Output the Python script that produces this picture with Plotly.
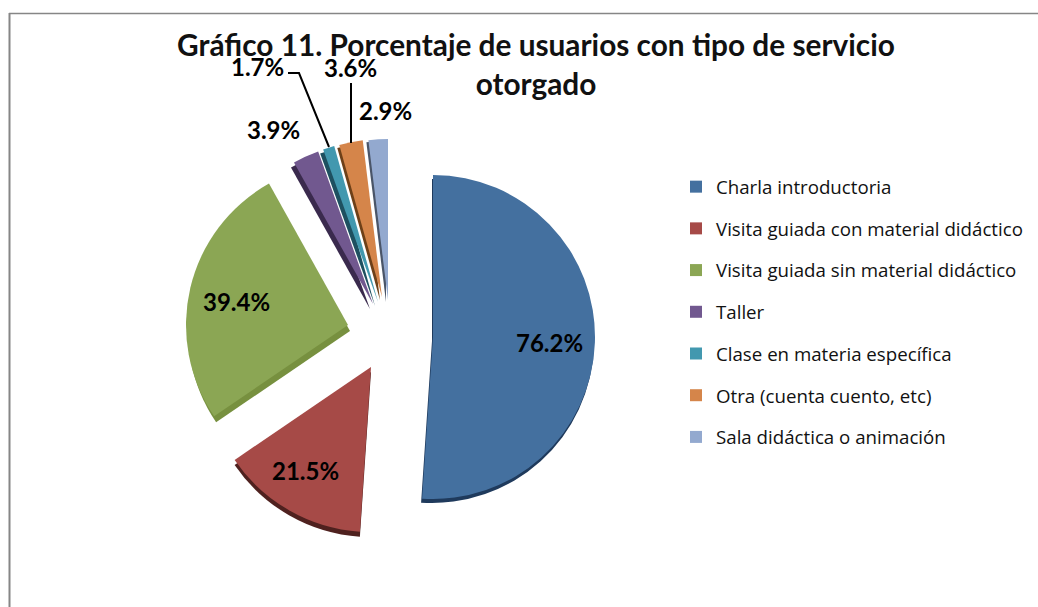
import plotly.graph_objects as go

W, H = 1038, 607

categories = ["Charla introductoria", "Visita guiada con material didáctico",
              "Visita guiada sin material didáctico", "Taller",
              "Clase en materia específica", "Otra (cuenta cuento, etc)",
              "Sala didáctica o animación"]
values = [76.2, 21.5, 39.4, 3.9, 1.7, 3.6, 2.9]
colors = ["#44709F", "#A64A47", "#8BA654", "#71588F", "#4298AF", "#D5854A", "#93A9CF"]
side_colors = ["#1F3A5C", "#4F211F", "#77903F", "#3A2A4D", "#1E5060", "#6E4018", "#4A5568"]

# apex (px) and radius (px) of each exploded wedge in the picture
apex_x = [433, 371, 348, 373, 378, 382, 388]
apex_y = [337, 367, 325, 304, 302, 297, 300]
radius = [162, 165, 162, 162, 162, 158, 161]
side_dx = [-1, 0, 2, -3, -3, -2, -2]
side_dy = [4, 5, 6, 5, 4, 3, 2]

label_x = [549, 305, 236, 273, 257, 350, 385]
label_y = [342, 471, 301, 129, 66, 68, 111]

CLEAR = "rgba(0,0,0,0)"


def dom(cx, cy, r):
    return dict(x=[(cx - r) / W, (cx + r) / W], y=[1 - (cy + r) / H, 1 - (cy - r) / H])


def wedge(i, palette, dx=0, dy=0):
    cols = [palette[j] if j == i else CLEAR for j in range(len(values))]
    return go.Pie(labels=categories, values=values, sort=False, direction="clockwise",
                  rotation=0, textinfo="none", hoverinfo="skip", showlegend=False,
                  marker=dict(colors=cols, line=dict(width=0)),
                  domain=dom(apex_x[i] + dx, apex_y[i] + dy, radius[i]))


fig = go.Figure()
for i in range(len(values)):
    fig.add_trace(wedge(i, side_colors, side_dx[i], side_dy[i]))
for i in range(len(values)):
    fig.add_trace(wedge(i, colors))

# legend entries
for i, c in enumerate(categories):
    fig.add_trace(go.Pie(labels=[c], values=[values[i]], textinfo="none", hoverinfo="skip",
                         legendgroup=c, marker=dict(colors=[colors[i]], line=dict(width=0)),
                         domain=dict(x=[0.5, 0.5002], y=[0.5, 0.5002])))

annotations = [dict(x=label_x[i] / W, y=1 - label_y[i] / H, xref="paper", yref="paper",
                    xanchor="center", yanchor="middle",
                    text=f"<b>{values[i]}%</b>", showarrow=False,
                    font=dict(family="Lato", size=24, color="black"))
               for i in range(len(values))]

line_style = dict(color="black", width=2)
shapes = [
    dict(type="line", xref="paper", yref="paper", x0=9.5 / W, x1=9.5 / W, y0=0, y1=1 - 13 / H,
         line=dict(color="#868686", width=2)),
    dict(type="line", xref="paper", yref="paper", x0=9 / W, x1=1, y0=1 - 13.5 / H, y1=1 - 13.5 / H,
         line=dict(color="#868686", width=1.5)),
    dict(type="path", xref="paper", yref="paper",
         path=f"M {288 / W} {1 - 73 / H} L {299 / W} {1 - 73 / H} L {329 / W} {1 - 147 / H}",
         line=line_style),
    dict(type="line", xref="paper", yref="paper", x0=351 / W, x1=351 / W, y0=1 - 83 / H, y1=1 - 143 / H,
         line=line_style),
]

fig.update_layout(
    width=W, height=H, margin=dict(l=0, r=0, t=0, b=0), paper_bgcolor="white",
    font=dict(family="Lato", color="#111111"),
    title=dict(text="<b>Gráfico 11. Porcentaje de usuarios con tipo de servicio<br>otorgado</b>",
               x=536 / W, xanchor="center", y=1 - 56 / H, yanchor="middle",
               font=dict(family="Lato", size=29.8, color="#111111")),
    legend=dict(x=676 / W, y=1 - 168 / H, xanchor="left", yanchor="top",
                font=dict(family="Open Sans", size=18.7, color="#111111"),
                tracegroupgap=14.4, itemclick=False, itemdoubleclick=False),
    annotations=annotations, shapes=shapes,
)
fig.write_html("out.html", config={"displayModeBar": False},
               post_script="document.body.style.margin='0';")
